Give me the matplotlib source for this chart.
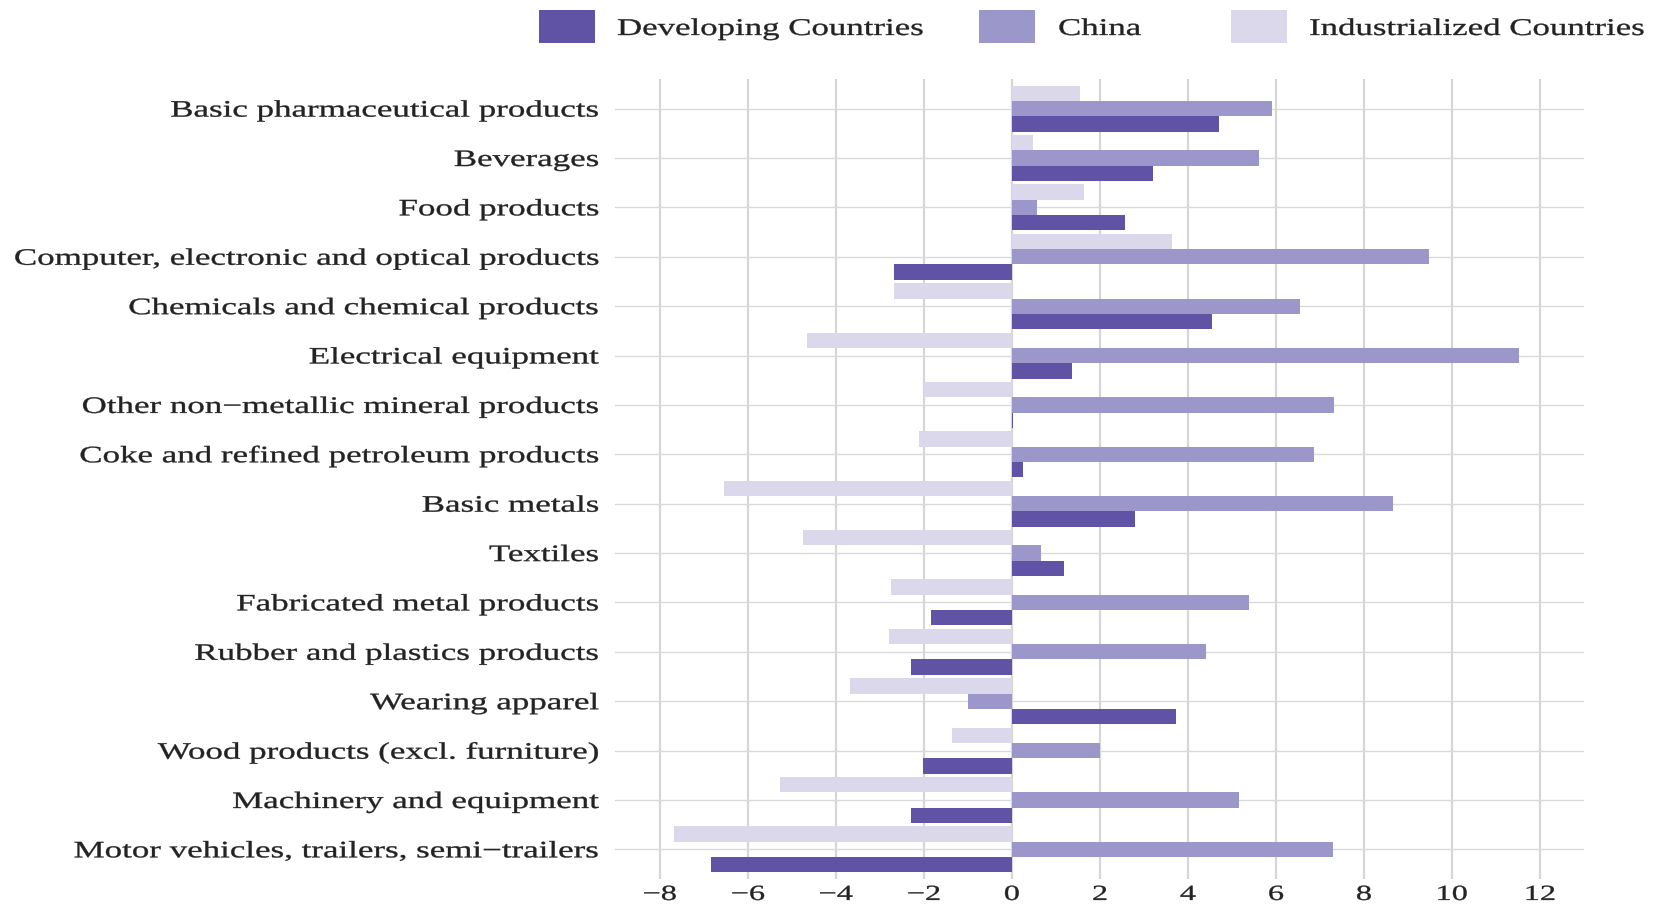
import matplotlib
matplotlib.use("Agg")
import matplotlib.pyplot as plt
import numpy as np
from matplotlib.patches import Rectangle
from matplotlib.patheffects import AbstractPathEffect
from matplotlib.transforms import Affine2D

categories = [
    "Basic pharmaceutical products",
    "Beverages",
    "Food products",
    "Computer, electronic and optical products",
    "Chemicals and chemical products",
    "Electrical equipment",
    "Other non\u2212metallic mineral products",
    "Coke and refined petroleum products",
    "Basic metals",
    "Textiles",
    "Fabricated metal products",
    "Rubber and plastics products",
    "Wearing apparel",
    "Wood products (excl. furniture)",
    "Machinery and equipment",
    "Motor vehicles, trailers, semi\u2212trailers",
]
developing = [4.71, 3.20, 2.57, -2.69, 4.54, 1.36, 0.03, 0.25, 2.79, 1.19,
              -1.85, -2.30, 3.73, -2.02, -2.30, -6.84]
china = [5.92, 5.61, 0.56, 9.48, 6.55, 11.52, 7.31, 6.86, 8.65, 0.65,
         5.39, 4.40, -1.00, 2.00, 5.15, 7.29]
industrialized = [1.54, 0.47, 1.63, 3.64, -2.69, -4.66, -2.00, -2.11, -6.54, -4.75,
                  -2.74, -2.79, -3.68, -1.36, -5.28, -7.67]
series_names = ["Developing Countries", "China", "Industrialized Countries"]
x_ticks = [-8, -6, -4, -2, 0, 2, 4, 6, 8, 10, 12]

colors = {"Developing Countries": "#6053A5",
          "China": "#9B97CB",
          "Industrialized Countries": "#DBD8EB"}


class StretchX(AbstractPathEffect):
    """Widen glyphs horizontally around an anchor (text stays a Text artist)."""
    def __init__(self, sx, anchor="left", stroke=0.0):
        super().__init__()
        self.sx = sx
        self.anchor = anchor
        self.stroke = stroke

    def draw_path(self, renderer, gc, tpath, affine, rgbFace=None):
        ext = tpath.get_extents()
        if self.anchor == "right":
            cx = ext.x1
        elif self.anchor == "center":
            cx = (ext.x0 + ext.x1) / 2.0
        else:
            cx = 0.0
        t = Affine2D().translate(-cx, 0).scale(self.sx, 1.0).translate(cx, 0) + affine
        gc0 = renderer.new_gc()
        gc0.copy_properties(gc)
        if self.stroke > 0 and rgbFace is not None:
            gc0.set_linewidth(self.stroke)
            gc0.set_foreground(rgbFace)
        renderer.draw_path(gc0, tpath, t, rgbFace)
        gc0.restore()


SX = 1.48
TXT = "#232323"
plt.rcParams["font.family"] = ["Liberation Serif", "DejaVu Serif"]

W, H = 1663, 906
fig = plt.figure(figsize=(W / 100, H / 100), dpi=100)
ax = fig.add_axes([615 / W, 1 - 879 / H, (1584 - 615) / W, (879 - 79) / H])

y = np.arange(len(categories))
bh = 0.31
ax.barh(y - bh, industrialized, height=bh, color=colors["Industrialized Countries"], linewidth=0, zorder=3)
ax.barh(y, china, height=bh, color=colors["China"], linewidth=0, zorder=3)
ax.barh(y + bh, developing, height=bh, color=colors["Developing Countries"], linewidth=0, zorder=3)

ax.set_xlim(-9.02, 13.0)
ax.set_ylim(len(categories) - 0.4, -0.6)
ax.set_xticks(x_ticks)
ax.set_yticks(y)
ax.set_yticklabels(categories)

for s in ax.spines.values():
    s.set_visible(False)
ax.xaxis.grid(True, color="#D6D6D6", linewidth=1.6, zorder=0)
ax.yaxis.grid(True, color="#D9D9D9", linewidth=0.95, zorder=0)
ax.set_axisbelow(True)
ax.tick_params(axis="both", length=0)
ax.tick_params(axis="y", pad=11.5, labelsize=17, labelcolor=TXT)
ax.tick_params(axis="x", pad=5, labelsize=15.5, labelcolor=TXT)

for lab in ax.get_yticklabels():
    lab.set_path_effects([StretchX(SX, "right", stroke=0.25)])
for lab in ax.get_xticklabels():
    lab.set_path_effects([StretchX(1.5, "center", stroke=0.25)])

# legend (manual, top)
key_x = [539, 979, 1231]
txt_x = [617, 1058, 1309]
for name, kx, tx in zip(series_names, key_x, txt_x):
    fig.add_artist(Rectangle((kx / W, 1 - 42.5 / H), 56 / W, 33 / H,
                             transform=fig.transFigure, facecolor=colors[name],
                             edgecolor="none"))
    t = fig.text(tx / W, 1 - 35 / H, name, fontsize=17.3, color=TXT,
                 ha="left", va="baseline")
    t.set_path_effects([StretchX(1.45, "left", stroke=0.25)])

fig.savefig("out.png", dpi=100, facecolor="white")
